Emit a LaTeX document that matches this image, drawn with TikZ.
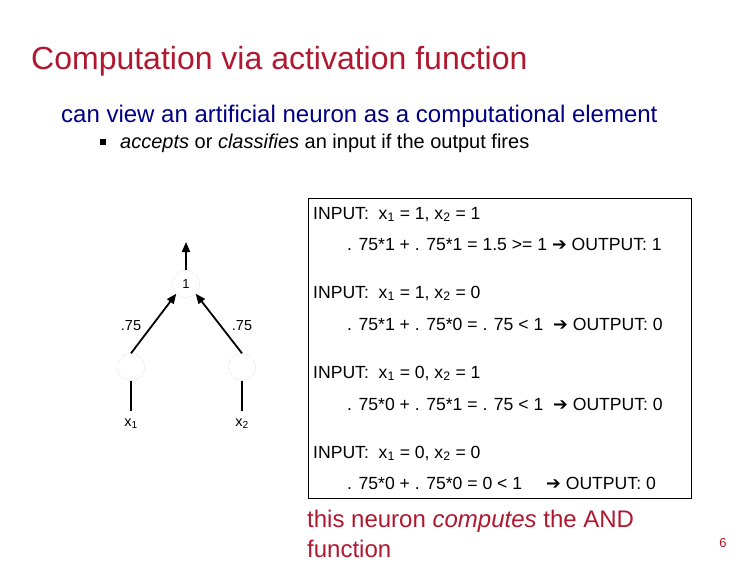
\documentclass[tikz,border=0pt]{standalone}
\usepackage{fontspec}
\setmainfont{Liberation Sans}
\newfontfamily\dvs{DejaVu Sans}
\usetikzlibrary{arrows.meta}
\definecolor{titlered}{RGB}{176,24,48}
\definecolor{circ}{RGB}{190,190,190}
\begin{document}
\begin{tikzpicture}[x=1pt,y=-1pt,
  neuron/.style={circle,draw=circ,densely dotted,minimum size=27pt,inner sep=0pt,font=\fontsize{13}{14}\selectfont\rmfamily},
  conn/.style={line width=1.8pt,-{Triangle[length=10pt,width=8pt]}},
  lbl/.style={font=\fontsize{14.5}{16}\selectfont},
  box/.style={anchor=base west,font=\fontsize{17.6}{20}\selectfont,inner sep=0pt}]
\useasboundingbox (0,0) rectangle (756,576);
\node[anchor=base west,inner sep=0pt,text=titlered,font=\fontsize{32}{36}\selectfont] (title) at (31,69) {Computation via activation function};
\node[anchor=base west,inner sep=0pt,text={rgb,255:red,0;green,0;blue,130},font=\fontsize{24}{28}\selectfont] (l1) at (61,122) {can view an artificial neuron as a computational element};
\fill (100,139) rectangle (106,145);
\node[anchor=base west,inner sep=0pt,font=\fontsize{20}{23}\selectfont] (l2) at (120,148) {\textit{accepts} or \textit{classifies} an input if the output fires};
% diagram
\node[neuron] (o) at (186,284) {1};
\node[neuron] (a) at (131,367) {};
\node[neuron] (b) at (242,367) {};
\coordinate (top) at (186,242);
\node[lbl] (x1) at (131,424) {x\textsubscript{1}};
\node[lbl] (x2) at (242,424) {x\textsubscript{2}};
\draw[line width=1.8pt] (a.south) -- (131,411);
\draw[line width=1.8pt] (b.south) -- (242,411);
\draw[conn] (a.north) -- (o.south west);
\draw[conn] (b.north) -- (o.south east);
\draw[conn] (o.north) -- (top);
\node[lbl] (w1) at (131,326) {.75};
\node[lbl] (w2) at (242,326) {.75};
% box
\draw[line width=0.8pt] (308,198) rectangle (691,498);
\node[box] (i1) at (313,219) {INPUT:\ \ x\textsubscript{1} = 1, x\textsubscript{2} = 1};
\node[box] (r1) at (347,250) {. 75*1 + . 75*1 = 1.5 >= 1 {\dvs ➔} OUTPUT: 1};
\node[box] (i2) at (313,298) {INPUT:\ \ x\textsubscript{1} = 1, x\textsubscript{2} = 0};
\node[box] (r2) at (347,330) {. 75*1 + . 75*0 = . 75 < 1\ \ {\dvs ➔} OUTPUT: 0};
\node[box] (i3) at (313,378) {INPUT:\ \ x\textsubscript{1} = 0, x\textsubscript{2} = 1};
\node[box] (r3) at (347,410) {. 75*0 + . 75*1 = . 75 < 1\ \ {\dvs ➔} OUTPUT: 0};
\node[box] (i4) at (313,458) {INPUT:\ \ x\textsubscript{1} = 0, x\textsubscript{2} = 0};
\node[box] (r4) at (347,489) {. 75*0 + . 75*0 = 0 < 1};
\node[box] (r4b) at (546,489) {{\dvs ➔} OUTPUT: 0};
\node[anchor=north west,inner sep=0pt,text=titlered,align=left,font=\fontsize{24}{30}\selectfont] (bot) at (307,510) {this neuron \textit{computes} the AND\\function};
\node[text=titlered,font=\fontsize{13}{14}\selectfont] (pg) at (723,543) {6};
\end{tikzpicture}
\end{document}
